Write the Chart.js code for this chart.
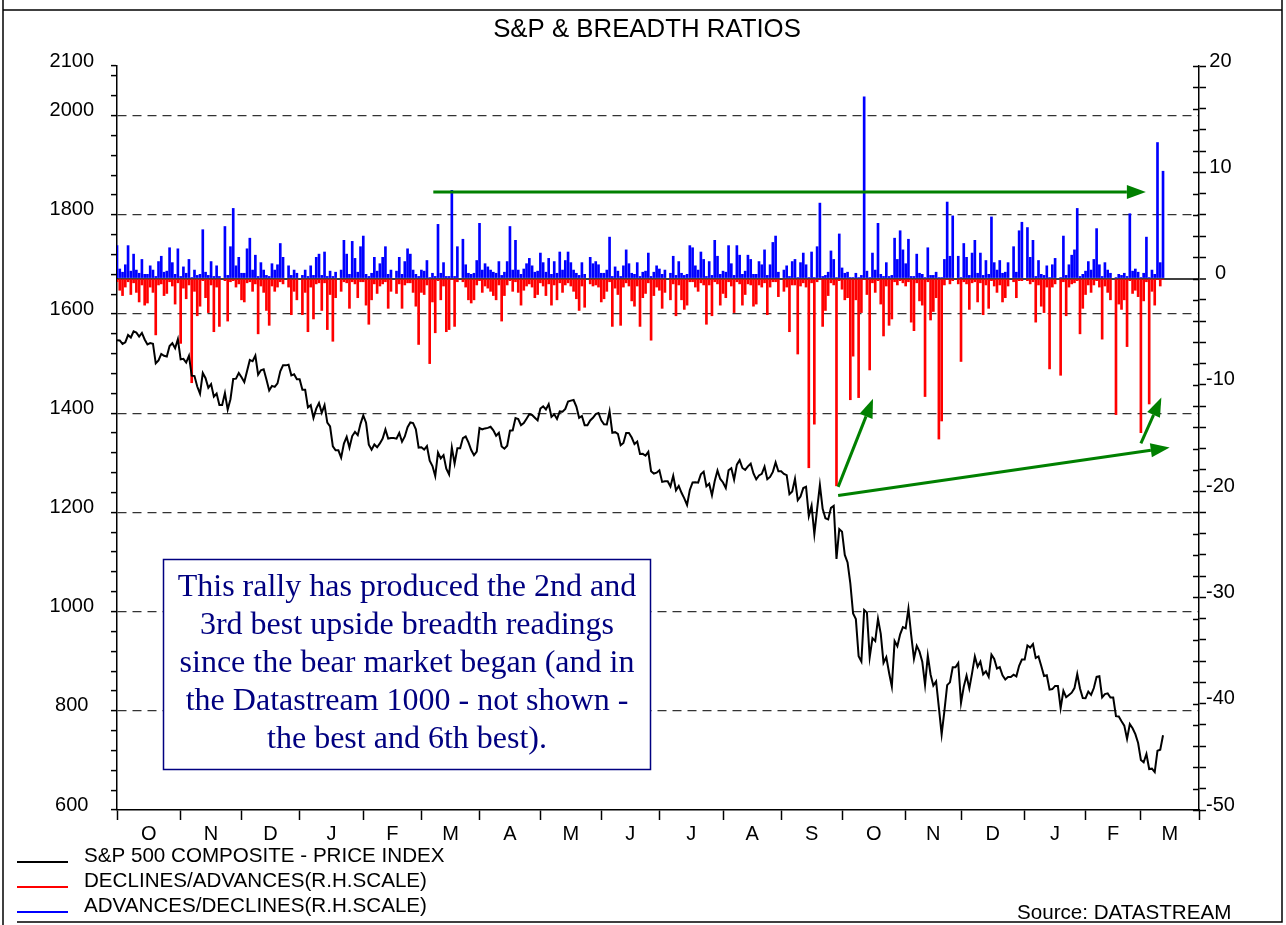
<!DOCTYPE html>
<html><head><meta charset="utf-8">
<script src="https://cdn.jsdelivr.net/npm/chart.js@4.4.1/dist/chart.umd.min.js"></script>
<style>html,body{margin:0;padding:0;background:#fff;}canvas{display:block;}</style>
</head><body>
<canvas id="c" width="1286" height="925"></canvas>
<script>
const chartTitle = 'S&P & BREADTH RATIOS';
const sourceText = 'Source: DATASTREAM';
const monthLabels = ['O','N','D','J','F','M','A','M','J','J','A','S','O','N','D','J','F','M'];
const monthWeekdays = [23,22,21,23,21,21,22,22,21,23,21,22,23,20,23,22,20,21];
const leftTickLabels = [600,800,1000,1200,1400,1600,1800,2000,2100];
const leftGridValues = [800,1000,1200,1400,1600,1800,2000];
const rightTickLabels = [-50,-40,-30,-20,-10,0,10,20];
const seriesNames = ['S&P 500 COMPOSITE - PRICE INDEX','DECLINES/ADVANCES(R.H.SCALE)','ADVANCES/DECLINES(R.H.SCALE)'];
const noteLines = ['This rally has produced the 2nd and','3rd best upside breadth readings','since the bear market began (and in','the Datastream 1000 - not shown -','the best and 6th best).'];

// S&P 500 daily (weekdays), Oct 2007 - 12 Mar 2009
const spx = [
1547.04,1546.63,1539.59,1542.84,1557.59,1552.58,1565.15,1562.47,1554.41,1561.80,1548.71,1538.53,1541.24,1540.08,1500.63,1506.33,1519.59,1515.88,1514.40,1535.28,1540.98,1531.02,1549.38,
1508.44,1509.65,1502.17,1515.88,1475.62,1474.77,1453.70,1439.18,1481.05,1470.58,1451.15,1458.74,1433.27,1439.70,1416.77,1416.77,1440.70,1407.22,1428.23,1469.02,1469.72,1481.14,
1472.42,1462.79,1485.01,1507.34,1504.66,1515.96,1477.65,1486.59,1488.41,1467.95,1445.90,1454.98,1453.00,1460.12,1484.46,1496.45,1496.45,1497.66,1476.27,1478.49,1468.36,
1468.36,1447.16,1447.16,1411.63,1416.18,1390.19,1409.13,1420.33,1401.02,1416.25,1380.95,1373.20,1333.25,1325.19,1325.19,1310.50,1338.60,1352.07,1330.61,1353.96,1362.30,1355.81,1378.55,
1395.42,1380.82,1336.64,1326.45,1336.91,1331.29,1339.13,1348.86,1367.21,1348.86,1349.99,1349.99,1348.78,1360.03,1342.53,1353.11,1371.80,1381.29,1380.02,1367.68,1330.63,
1331.34,1326.75,1333.70,1304.34,1293.37,1273.37,1320.65,1308.77,1315.48,1288.14,1276.60,1330.74,1298.42,1329.51,1329.51,1349.88,1352.99,1341.13,1325.76,1315.22,1322.70,
1370.18,1367.53,1369.31,1370.40,1372.54,1365.54,1354.49,1360.55,1332.83,1328.32,1334.43,1364.71,1365.56,1390.33,1388.17,1375.94,1379.93,1388.82,1397.84,1396.37,1390.94,1385.59,
1409.34,1413.90,1407.49,1418.26,1392.57,1397.68,1388.28,1403.58,1403.04,1408.66,1423.57,1425.35,1426.63,1413.40,1390.71,1394.35,1375.93,1375.93,1385.35,1390.84,1398.26,1400.38,
1385.67,1377.65,1377.20,1404.05,1360.68,1361.76,1358.44,1335.49,1339.87,1360.03,1360.14,1350.93,1337.81,1342.83,1317.93,1318.00,1314.29,1321.97,1283.15,1278.38,1280.00,
1284.91,1261.52,1262.90,1262.90,1252.31,1273.70,1244.69,1253.39,1239.49,1228.30,1214.91,1245.36,1260.32,1260.68,1260.00,1277.00,1282.19,1252.54,1257.76,1234.37,1263.20,1284.26,1267.38,
1260.31,1249.01,1284.88,1289.19,1266.07,1296.32,1305.32,1289.59,1285.83,1292.93,1298.20,1278.60,1266.69,1274.54,1277.72,1292.20,1266.84,1271.51,1281.66,1300.68,1282.83,
1282.83,1277.58,1274.98,1236.83,1242.31,1267.79,1224.51,1232.04,1249.05,1251.70,1192.70,1213.60,1156.39,1206.51,1255.08,1207.09,1188.22,1185.87,1209.18,1213.27,1106.39,1166.36,
1161.06,1114.28,1099.23,1056.89,996.23,984.94,909.92,899.22,1003.35,998.01,907.84,946.43,940.55,985.40,955.05,896.78,908.11,876.77,848.92,940.51,930.09,954.09,968.75,
966.30,1005.75,952.77,904.88,930.99,919.21,898.95,852.30,911.29,873.29,850.75,859.12,806.58,752.44,800.03,851.81,857.39,887.68,887.68,896.24,
816.21,848.81,870.74,845.22,876.07,909.70,888.67,899.24,873.59,879.73,868.57,913.18,904.42,885.28,887.88,871.63,863.16,868.15,868.15,872.80,869.42,890.64,903.25,
903.25,931.80,927.45,934.70,906.65,909.73,890.35,870.26,871.79,842.62,843.74,850.12,850.12,805.22,840.24,827.50,831.95,836.57,845.71,874.09,845.14,825.88,
825.44,838.51,832.23,845.85,868.60,869.89,827.16,833.74,835.19,826.84,826.84,789.17,788.42,778.94,770.05,743.33,773.14,764.90,752.83,735.09,
700.82,696.33,712.87,682.55,683.38,676.53,719.60,721.36,750.74
];

// Advances/Declines (blue, R.H. scale)
const advDec = [
3.1,0.9,0.6,1.3,3.1,0.7,2.3,0.8,0.5,1.8,
0.4,0.4,1.2,0.8,0.2,1.6,2.1,0.6,0.7,2.9,
1.5,0.4,2.8,0.2,1.1,0.5,1.8,0.1,0.8,0.3,
0.4,4.6,0.6,0.3,1.6,0.2,1.2,0.2,null,4.9,
0.3,3.0,6.6,1.2,2.0,0.5,0.5,2.8,3.8,0.8,
2.2,0.2,1.5,0.8,0.3,0.2,1.4,0.8,1.3,3.3,
2.0,null,1.2,0.3,0.8,0.5,null,0.3,0.8,0.2,
1.2,0.3,2.0,2.3,0.3,2.5,0.2,0.7,0.2,0.6,
null,0.8,3.6,2.3,0.4,3.5,1.9,0.6,3.0,4.0,
0.4,0.2,0.5,2.0,0.7,1.4,2.0,3.0,0.4,0.8,
null,0.7,2.0,0.4,1.6,2.8,2.3,0.8,0.4,0.2,
0.8,0.7,1.7,0.1,0.5,0.2,5.1,0.5,1.5,0.2,
0.2,8.3,0.2,3.0,null,3.7,1.3,0.5,0.4,0.5,
1.7,5.2,0.8,1.4,1.1,0.8,0.6,0.5,1.6,0.3,
0.6,1.6,4.9,0.8,3.6,0.8,0.4,0.9,1.4,1.9,
1.2,0.6,0.7,2.4,1.5,0.6,1.9,0.4,1.6,0.5,
2.5,0.8,1.7,2.5,1.5,0.8,0.5,0.3,1.5,0.4,
null,2.0,1.4,1.6,1.3,0.5,0.5,0.8,3.9,0.2,
1.1,0.7,0.2,1.2,2.7,1.4,0.5,0.4,1.5,0.2,
0.6,0.7,2.4,0.2,0.6,1.2,0.9,0.4,0.8,null,
0.5,2.1,0.3,1.6,0.5,0.3,0.4,3.1,2.9,1.2,
0.8,2.5,1.8,0.2,1.6,0.3,3.6,2.1,0.4,0.7,
0.6,3.1,1.4,0.3,3.1,2.2,0.4,0.7,2.2,1.8,
0.4,0.4,1.6,1.3,2.7,0.3,1.3,3.4,4.0,0.6,
null,0.8,1.2,0.2,1.6,1.8,0.1,1.5,2.4,1.3,
0.1,2.5,0.1,3.0,7.1,0.2,0.3,0.6,2.6,1.8,
0.1,4.2,1.0,0.5,0.6,0.1,0.1,0.5,0.1,0.3,
17.1,0.7,0.1,2.4,0.8,5.2,0.4,0.2,1.5,0.2,
0.3,3.8,1.8,4.5,2.7,1.4,3.7,0.2,0.2,2.3,
0.5,0.4,0.1,2.9,0.3,0.3,0.6,0.1,0.1,1.8,
7.2,2.1,5.9,null,2.1,0.1,3.3,2.0,0.3,2.4,
3.6,0.5,2.4,0.3,1.7,0.4,5.8,1.5,0.8,1.7,
0.5,0.6,1.5,null,3.0,0.6,4.5,5.3,null,4.8,
2.0,3.6,0.2,1.7,0.4,0.3,1.2,0.1,1.3,1.9,
null,0.1,4.0,0.3,1.3,2.2,2.7,6.6,0.2,0.4,
0.7,1.6,0.8,1.8,4.7,1.3,0.2,1.5,0.8,0.5,
null,0.1,0.4,0.3,0.5,0.2,6.1,0.7,0.9,0.6,
0.1,0.5,3.9,0.1,0.8,0.4,12.8,1.5,10.1
];

// Declines/Advances (red, plotted negative on R.H. scale)
const decAdv = [
-0.3,-1.1,-1.6,-0.8,-0.3,-1.5,-0.4,-1.3,-2.2,-0.6,
-2.5,-2.3,-0.8,-1.3,-5.3,-0.6,-0.5,-1.6,-1.4,-0.3,
-0.7,-2.4,-0.4,-6.1,-0.9,-1.9,-0.6,-9.8,-1.2,-3.5,
-2.6,-0.2,-1.8,-3.2,-0.6,-5.0,-0.8,-4.5,null,-0.2,
-4.0,-0.3,-0.2,-0.8,-0.5,-2.0,-2.2,-0.4,-0.3,-1.2,
-0.5,-5.2,-0.7,-1.3,-3.0,-4.4,-0.7,-1.2,-0.8,-0.3,
-0.5,null,-0.8,-3.4,-1.2,-2.0,null,-3.4,-1.3,-5.0,
-0.8,-3.8,-0.5,-0.4,-3.0,-0.4,-4.8,-1.5,-5.9,-1.8,
null,-1.2,-0.3,-0.4,-2.8,-0.3,-0.5,-1.8,-0.3,-0.3,
-2.5,-4.3,-2.0,-0.5,-1.4,-0.7,-0.5,-0.3,-2.8,-1.2,
null,-1.4,-0.5,-2.8,-0.6,-0.4,-0.4,-1.3,-2.6,-6.2,
-1.3,-1.5,-0.6,-8.0,-2.2,-5.1,-0.2,-2.0,-0.7,-5.0,
-4.8,-0.1,-4.5,-0.3,null,-0.3,-0.8,-2.0,-2.3,-2.0,
-0.6,-0.2,-1.3,-0.7,-0.9,-1.2,-1.6,-2.0,-0.6,-4.0,
-1.6,-0.6,-0.2,-1.2,-0.3,-1.3,-2.5,-1.1,-0.7,-0.5,
-0.8,-1.8,-1.5,-0.4,-0.7,-1.6,-0.5,-2.5,-0.6,-2.0,
-0.4,-1.3,-0.6,-0.4,-0.7,-1.2,-1.9,-3.0,-0.7,-2.7,
null,-0.5,-0.7,-0.6,-0.8,-2.2,-1.9,-1.2,-0.3,-4.5,
-0.9,-1.5,-4.4,-0.8,-0.4,-0.7,-2.1,-2.6,-0.7,-4.5,
-1.8,-1.4,-0.4,-5.8,-1.6,-0.8,-1.1,-2.8,-1.3,null,
-2.0,-0.5,-3.5,-0.6,-2.0,-2.9,-2.5,-0.3,-0.3,-0.8,
-1.2,-0.4,-0.6,-4.3,-0.6,-3.5,-0.3,-0.5,-2.5,-1.4,
-1.8,-0.3,-0.7,-3.2,-0.3,-0.5,-2.5,-1.5,-0.5,-0.6,
-2.6,-2.4,-0.6,-0.8,-0.4,-3.4,-0.8,-0.3,-0.3,-1.7,
null,-1.2,-0.8,-5.0,-0.6,-0.6,-7.1,-0.7,-0.4,-0.8,
-17.8,-0.4,-13.7,-0.3,-0.1,-4.5,-3.0,-1.6,-0.4,-0.6,
-19.5,-0.2,-1.0,-2.0,-1.8,-11.4,-7.3,-2.0,-11.2,-3.2,
-0.1,-1.5,-8.6,-0.4,-1.3,-0.2,-2.4,-5.4,-0.7,-4.4,
-3.8,-0.3,-0.6,-0.2,-0.4,-0.7,-0.3,-4.1,-4.9,-0.4,
-2.1,-2.5,-11.1,-0.3,-3.9,-3.1,-1.8,-15.1,-13.4,-0.6,
-0.1,-0.5,-0.2,null,-0.5,-7.8,-0.3,-0.5,-2.9,-0.4,
-0.3,-2.2,-0.4,-3.4,-0.6,-2.8,-0.2,-0.7,-1.3,-0.6,
-2.2,-1.8,-0.7,null,-0.3,-1.8,-0.2,-0.2,null,-0.2,
-0.5,-0.3,-4.1,-0.6,-2.6,-3.2,-0.8,-8.5,-0.8,-0.5,
null,-9.1,-0.3,-3.5,-0.8,-0.5,-0.4,-0.2,-5.2,-2.8,
-1.5,-0.6,-1.3,-0.6,-0.2,-0.8,-5.7,-0.7,-1.3,-2.0,
null,-12.8,-2.4,-2.9,-2.0,-6.4,-0.2,-1.4,-1.1,-1.7,
-14.5,-2.1,-0.3,-11.8,-1.2,-2.5,-0.1,-0.7,-0.1
];

// ---- derived axis structure ----
const bounds = [0];
monthWeekdays.forEach(n => bounds.push(bounds[bounds.length - 1] + n));
const mids = monthLabels.map((_, k) => (bounds[k] + bounds[k + 1]) / 2);
const xMax = bounds[bounds.length - 1];
const xTickVals = bounds.concat(mids).sort((a, b) => a - b);
const leftTickVals = [];
for (let v = 600; v <= 2080; v += 40) leftTickVals.push(v);
leftTickVals.push(2100);
const rightTickVals = [];
for (let v = -50; v <= 20; v += 2) rightTickVals.push(v);

const FONT = "'Liberation Sans', Arial, Helvetica, sans-serif";
Chart.defaults.font.family = FONT;
Chart.defaults.font.size = 20;
Chart.defaults.color = '#000';

// annotation arrows in data coordinates (x = weekday index, y = R.H. scale)
const arrows = [
  { from: [114.3, 8.15], to: [371.8, 8.15] },
  { from: [260.6, -19.6], to: [273.2, -11.3] },
  { from: [260.6, -20.4], to: [380.4, -15.9] },
  { from: [370.0, -15.5], to: [377.4, -11.2] }
];

function drawArrow(ctx, x1, y1, x2, y2) {
  const ang = Math.atan2(y2 - y1, x2 - x1);
  const hl = 19, hw = 7;
  const bx = x2 - hl * Math.cos(ang), by = y2 - hl * Math.sin(ang);
  ctx.strokeStyle = '#008000'; ctx.fillStyle = '#008000'; ctx.lineWidth = 3;
  ctx.beginPath(); ctx.moveTo(x1, y1); ctx.lineTo(bx, by); ctx.stroke();
  ctx.beginPath(); ctx.moveTo(x2, y2);
  ctx.lineTo(bx + hw * Math.sin(ang), by - hw * Math.cos(ang));
  ctx.lineTo(bx - hw * Math.sin(ang), by + hw * Math.cos(ang));
  ctx.closePath(); ctx.fill();
}

const overlay = {
  id: 'overlay',
  beforeDraw(chart) {
    const c = chart.ctx;
    c.save(); c.fillStyle = '#fff'; c.fillRect(0, 0, chart.width, chart.height); c.restore();
  },
  afterDraw(chart) {
    const c = chart.ctx;
    const xs = chart.scales.x, yR = chart.scales.yR;
    c.save();
    // inward ticks on right axis
    c.strokeStyle = '#000'; c.lineWidth = 1.5;
    rightTickVals.forEach(v => {
      const py = Math.round(yR.getPixelForValue(v)) + 0.5;
      c.beginPath(); c.moveTo(yR.left - 6, py); c.lineTo(yR.left, py); c.stroke();
    });
    // arrows
    arrows.forEach(a => drawArrow(c, xs.getPixelForValue(a.from[0]), yR.getPixelForValue(a.from[1]),
      xs.getPixelForValue(a.to[0]), yR.getPixelForValue(a.to[1])));
    // note box
    const bx = 163.5, by = 559.5, bw = 487, bh = 210;
    c.fillStyle = '#fff'; c.fillRect(bx, by, bw, bh);
    c.strokeStyle = '#000080'; c.lineWidth = 1.5; c.strokeRect(bx, by, bw, bh);
    c.fillStyle = '#000080'; c.font = "32px 'Liberation Serif', 'Times New Roman', serif";
    c.textAlign = 'center'; c.textBaseline = 'middle';
    noteLines.forEach((t, i) => c.fillText(t, bx + bw / 2, 588 + i * 37.8));
    // title
    c.fillStyle = '#000'; c.font = '25.8px ' + FONT; c.textAlign = 'center'; c.textBaseline = 'alphabetic';
    c.fillText(chartTitle, 647, 37);
    // legend
    const legY = [862, 887, 912];
    c.font = '20.6px ' + FONT; c.textAlign = 'left';
    chart.data.datasets.forEach((ds, i) => {
      const col = ds.type === 'line' ? ds.borderColor : ds.backgroundColor;
      c.strokeStyle = col; c.lineWidth = 2;
      c.beginPath(); c.moveTo(17, legY[i]); c.lineTo(68, legY[i]); c.stroke();
      c.fillStyle = '#000'; c.fillText(ds.label, 84, legY[i]);
    });
    // source
    c.fillText(sourceText, 1017, 919);
    // frame
    c.strokeStyle = '#000'; c.lineWidth = 1.5;
    c.beginPath(); c.moveTo(3, 0); c.lineTo(3, 925); c.stroke();
    c.beginPath(); c.moveTo(17, 922); c.lineTo(1282, 922); c.lineTo(1282, 0); c.stroke();
    c.beginPath(); c.moveTo(3, 10); c.lineTo(1282, 10); c.stroke();
    c.restore();
  }
};

new Chart(document.getElementById('c'), {
  type: 'line',
  data: {
    datasets: [
      { type: 'line', label: seriesNames[0], xAxisID: 'x', yAxisID: 'yL',
        data: spx.map((v, i) => ({ x: i, y: v })), borderColor: '#000000', borderWidth: 2,
        pointRadius: 0, tension: 0, fill: false, order: 0 },
      { type: 'bar', label: seriesNames[1], xAxisID: 'x', yAxisID: 'yR',
        data: decAdv.map((v, i) => ({ x: i, y: v })), backgroundColor: '#ff0000', borderWidth: 0,
        barThickness: 2, grouped: false, order: 2 },
      { type: 'bar', label: seriesNames[2], xAxisID: 'x', yAxisID: 'yR',
        data: advDec.map((v, i) => ({ x: i, y: v })), backgroundColor: '#0000ff', borderWidth: 0,
        barThickness: 2, grouped: false, order: 1 }
    ]
  },
  options: {
    responsive: false, animation: false, devicePixelRatio: 1, events: [],
    layout: { padding: { top: 66, left: 0, right: 0, bottom: 0 } },
    plugins: { legend: { display: false }, tooltip: { enabled: false }, title: { display: false } },
    scales: {
      x: {
        type: 'linear', position: 'bottom', min: 0, max: xMax, offset: false,
        afterBuildTicks(s) { s.ticks = xTickVals.map(v => ({ value: v })); },
        afterFit(s) { s.height = 115; },
        ticks: { autoSkip: false, maxRotation: 0, minRotation: 0, padding: 2,
          callback(v) { const k = mids.indexOf(v); return k >= 0 ? monthLabels[k] : ''; } },
        grid: { offset: false, drawOnChartArea: false, drawTicks: true, tickLength: 10, tickWidth: 1.5,
          color: 'rgba(0,0,0,0)',
          tickColor(ctx) { return ctx.tick && bounds.includes(ctx.tick.value) ? '#000' : 'rgba(0,0,0,0)'; } },
        border: { color: '#000', width: 1.5 }
      },
      yL: {
        type: 'linear', position: 'left', min: 600, max: 2100,
        afterBuildTicks(s) { s.ticks = leftTickVals.map(v => ({ value: v })); },
        afterFit(s) { s.width = 117; },
        ticks: { autoSkip: false, padding: 17, crossAlign: 'center', labelOffset: -5,
          callback(v) { return leftTickLabels.includes(v) ? String(v) : ''; } },
        grid: { offset: false, drawOnChartArea: true, tickLength: 6, lineWidth: 1.2, tickWidth: 1.5, tickColor: '#000',
          color(ctx) { return ctx.tick && leftGridValues.includes(ctx.tick.value) ? '#333333' : 'rgba(0,0,0,0)'; } },
        border: { color: '#000', width: 1.5, dash: [9, 6] }
      },
      yR: {
        type: 'linear', position: 'right', min: -50, max: 20,
        afterBuildTicks(s) { s.ticks = rightTickVals.map(v => ({ value: v })); },
        afterFit(s) { s.width = 87; },
        ticks: { autoSkip: false, padding: 0, crossAlign: 'center', labelOffset: -5,
          callback(v) { return rightTickLabels.includes(v) ? String(v) : ''; } },
        grid: { offset: false, drawOnChartArea: true, tickLength: 7, tickWidth: 1.5, tickColor: '#000',
          color(ctx) { return ctx.tick && ctx.tick.value === 0 ? '#404040' : 'rgba(0,0,0,0)'; },
          lineWidth(ctx) { return ctx.tick && ctx.tick.value === 0 ? 2 : 1; } },
        border: { color: '#000', width: 1.5 }
      }
    }
  },
  plugins: [overlay]
});
</script>
</body></html>
